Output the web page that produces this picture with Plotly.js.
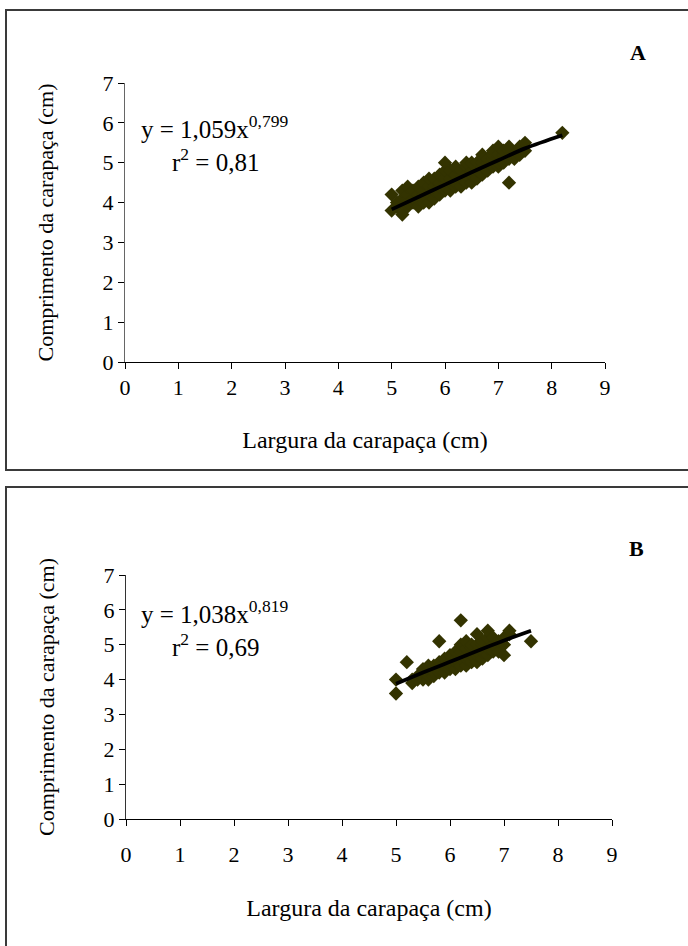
<!DOCTYPE html>
<html>
<head>
<meta charset="utf-8">
<script src="https://cdn.plot.ly/plotly-3.0.1.min.js"></script>
<style>html,body{margin:0;padding:0;background:#fff;}#chart{width:688px;height:946px;}</style>
</head>
<body>
<div id="chart"></div>
<script>
// Panel A data: Largura (x) vs Comprimento (y) da carapaça, cm
const xA = [5.0,5.0, 5.1,5.1, 5.2,5.2,5.2, 5.3,5.3,5.3,5.3, 5.4,5.4,5.4, 5.5,5.5,5.5,5.5,
  5.6,5.6,5.6,5.6, 5.7,5.7,5.7,5.7, 5.8,5.8,5.8,5.8, 5.9,5.9,5.9,5.9, 6.0,6.0,6.0,6.0,6.0,
  6.1,6.1,6.1,6.1, 6.2,6.2,6.2,6.2, 6.3,6.3,6.3, 6.4,6.4,6.4,6.4, 6.5,6.5,6.5,6.5,
  6.6,6.6,6.6, 6.7,6.7,6.7,6.7, 6.8,6.8,6.8, 6.9,6.9,6.9,6.9, 7.0,7.0,7.0,7.0,
  7.1,7.1,7.1, 7.2,7.2,7.2,7.2, 7.3,7.3, 7.4,7.4, 7.5,7.5, 8.2];
const yA = [3.8,4.2, 3.9,4.0, 3.7,4.1,4.3, 3.9,4.0,4.2,4.4, 4.0,4.1,4.3, 3.9,4.1,4.2,4.4,
  4.0,4.2,4.3,4.5, 4.0,4.2,4.4,4.6, 4.1,4.3,4.4,4.6, 4.2,4.4,4.5,4.7, 4.3,4.4,4.6,4.8,5.0,
  4.3,4.5,4.6,4.8, 4.4,4.5,4.7,4.9, 4.4,4.6,4.8, 4.5,4.7,4.9,5.0, 4.5,4.7,4.8,5.0,
  4.6,4.8,5.0, 4.7,4.9,5.0,5.2, 4.8,5.0,5.1, 4.9,5.1,5.2,5.3, 4.9,5.0,5.2,5.4,
  5.0,5.2,5.3, 4.5,5.1,5.3,5.4, 5.1,5.2, 5.2,5.4, 5.3,5.5, 5.75];
// Power trend line A (y = 1,059x^0,799)
const trendAx = [5.0, 5.5, 6.0, 6.5, 7.0, 7.5, 8.2];
const trendAy = [3.83, 4.14, 4.45, 4.76, 5.06, 5.36, 5.69];

// Panel B data
const xB = [5.0,5.0, 5.2, 5.3,5.3, 5.4,5.4, 5.5,5.5,5.5, 5.6,5.6,5.6,5.6, 5.7,5.7,5.7,
  5.8,5.8,5.8,5.8, 5.9,5.9,5.9, 6.0,6.0,6.0,6.0, 6.1,6.1,6.1,6.1, 6.2,6.2,6.2,6.2,6.2,
  6.3,6.3,6.3,6.3,6.3, 6.4,6.4,6.4,6.4, 6.5,6.5,6.5,6.5,6.5, 6.6,6.6,6.6,6.6,
  6.7,6.7,6.7,6.7, 6.8,6.8,6.8, 6.9,6.9, 7.0,7.0,7.0, 7.1,7.1, 7.5];
const yB = [3.6,4.0, 4.5, 3.9,4.0, 4.0,4.1, 4.0,4.2,4.3, 4.0,4.1,4.3,4.4, 4.1,4.2,4.4,
  4.2,4.3,4.5,5.1, 4.2,4.4,4.6, 4.3,4.4,4.5,4.7, 4.3,4.5,4.6,4.8, 4.4,4.6,4.8,5.0,5.7,
  4.4,4.6,4.7,4.9,5.1, 4.5,4.7,4.9,5.0, 4.5,4.7,4.8,5.0,5.3, 4.6,4.8,5.0,5.1,
  4.7,4.9,5.2,5.4, 4.8,5.0,5.2, 4.8,5.1, 4.7,5.0,5.2, 5.3,5.4, 5.1];
const trendBx = [5.0, 5.5, 6.0, 6.5, 7.0, 7.5];
const trendBy = [3.88, 4.20, 4.51, 4.82, 5.12, 5.40];

const xTickVals = [0,1,2,3,4,5,6,7,8,9];
const yTickVals = [0,1,2,3,4,5,6,7];
const xTitle = 'Largura da carapaça (cm)';
const yTitle = 'Comprimento da carapaça (cm)';
const eqA = 'y = 1,059x<sup>0,799</sup>';
const r2A = 'r<sup>2</sup> = 0,81';
const eqB = 'y = 1,038x<sup>0,819</sup>';
const r2B = 'r<sup>2</sup> = 0,69';

const W = 688, H = 946;
const FONT = 'Liberation Serif, Times New Roman, serif';
const px = v => v / W;
const py = v => 1 - v / H;

const markerStyle = {symbol: 'diamond', size: 11, color: '#333300', line: {width: 0}};
const traces = [
  {x: xA, y: yA, type: 'scatter', mode: 'markers', marker: markerStyle, xaxis: 'x', yaxis: 'y', hoverinfo: 'x+y'},
  {x: trendAx, y: trendAy, type: 'scatter', mode: 'lines', line: {color: '#000', width: 3.8, shape: 'spline'}, xaxis: 'x', yaxis: 'y'},
  {x: xB, y: yB, type: 'scatter', mode: 'markers', marker: markerStyle, xaxis: 'x2', yaxis: 'y2', hoverinfo: 'x+y'},
  {x: trendBx, y: trendBy, type: 'scatter', mode: 'lines', line: {color: '#000', width: 3.8, shape: 'spline'}, xaxis: 'x2', yaxis: 'y2'}
];

function xAxis(domain, anchor, labelPad, titlePad) {
  return {
    domain: domain, anchor: anchor, range: [0, 9], tickmode: 'array', tickvals: xTickVals,
    ticks: 'outside', ticklen: 6, tickwidth: 1, tickcolor: '#000', ticklabelstandoff: labelPad,
    showline: true, linecolor: '#000', linewidth: 1, showgrid: false, zeroline: false,
    tickfont: {family: FONT, size: 22, color: '#000'},
    title: {text: xTitle, font: {family: FONT, size: 24, color: '#000'}, standoff: titlePad},
    fixedrange: true
  };
}
function yAxis(domain, anchor, lineColor) {
  return {
    domain: domain, anchor: anchor, range: [0, 7], tickmode: 'array', tickvals: yTickVals,
    ticks: 'outside', ticklen: 6, tickwidth: 1, tickcolor: '#000',
    showline: true, linecolor: lineColor, linewidth: 1, showgrid: false, zeroline: false,
    tickfont: {family: FONT, size: 22, color: '#000'},
    title: {text: yTitle, font: {family: FONT, size: 22, color: '#000'}, standoff: 42},
    fixedrange: true
  };
}

const annFont = {family: FONT, size: 25, color: '#000'};
const lblFont = {family: FONT, size: 22, color: '#000'};
function ann(x, y, text, font) {
  return {xref: 'paper', yref: 'paper', x: px(x), y: py(y), xanchor: 'center', yanchor: 'middle',
    text: text, showarrow: false, font: font};
}
const layout = {
  width: W, height: H,
  margin: {l: 0, r: 0, t: 0, b: 0},
  paper_bgcolor: '#fff', plot_bgcolor: '#fff',
  showlegend: false,
  xaxis: xAxis([px(125), px(605)], 'y', 0, 31),
  yaxis: yAxis([py(362), py(83)], 'x', '#666'),
  xaxis2: xAxis([px(126), px(612)], 'y2', 10, 32),
  yaxis2: yAxis([py(819), py(575)], 'x2', '#333'),
  shapes: [
    {type: 'rect', xref: 'paper', yref: 'paper', x0: px(6), x1: px(700), y0: py(470), y1: py(10), line: {color: '#3a3a3a', width: 2}},
    {type: 'rect', xref: 'paper', yref: 'paper', x0: px(6), x1: px(700), y0: py(960), y1: py(487), line: {color: '#3a3a3a', width: 2}}
  ],
  annotations: [
    ann(638, 53, '<b>A</b>', lblFont),
    ann(214, 127, eqA, annFont),
    ann(215, 160, r2A, annFont),
    ann(636, 548, '<b>B</b>', lblFont),
    ann(214, 612, eqB, annFont),
    ann(215, 645, r2B, annFont)
  ]
};

Plotly.newPlot('chart', traces, layout, {displayModeBar: false, staticPlot: true});
</script>
</body>
</html>
